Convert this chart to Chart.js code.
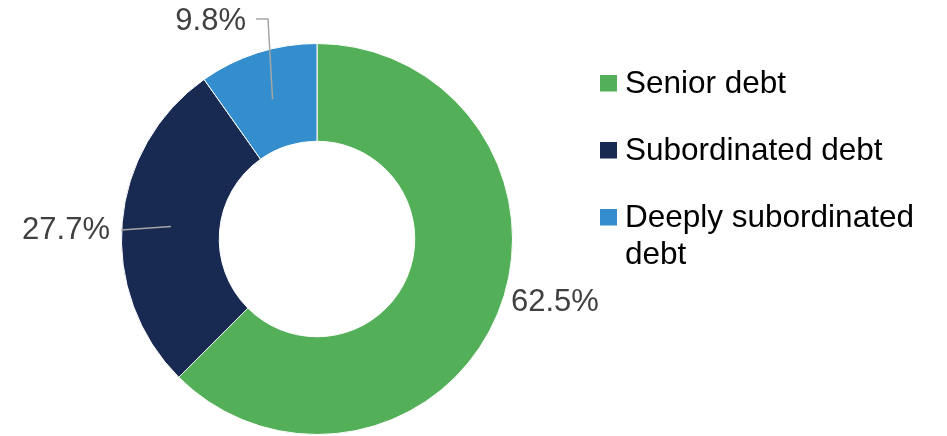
<!DOCTYPE html>
<html>
<head>
<meta charset="utf-8">
<script src="https://cdn.jsdelivr.net/npm/chart.js@4.4.1/dist/chart.umd.min.js"></script>
<style>
html,body{margin:0;padding:0;background:#fff;overflow:hidden;}
#c{display:block;}
</style>
</head>
<body>
<canvas id="c" width="947" height="436"></canvas>
<script>
const categories = ["Senior debt", "Subordinated debt", "Deeply subordinated debt"];
const legendLines = [["Senior debt"], ["Subordinated debt"], ["Deeply subordinated", "debt"]];
const shares = [62.5, 27.7, 9.8];
const labelTexts = ["62.5%", "27.7%", "9.8%"];
const colors = ["#54B058", "#182952", "#348DCD"];

const FONT = '"Liberation Sans", Arial, sans-serif';

// label placement relative to chart center (pixels)
const labelPlacement = [
  {text: [194, 63], align: 'left', line: null},
  {text: [-207, -9], align: 'right', line: [[-196, -9]]},
  {text: [-71, -218], align: 'right', line: [[-49, -220], [-61, -220]]}
];

const overlay = {
  id: 'overlay',
  afterDraw(chart) {
    const ctx = chart.ctx;
    const meta = chart.getDatasetMeta(0);
    ctx.save();
    meta.data.forEach((arc, i) => {
      const p = arc.getProps(['x','y','startAngle','endAngle','innerRadius','outerRadius'], true);
      const mid = (p.startAngle + p.endAngle) / 2;
      const r = (p.innerRadius + p.outerRadius) / 2;
      const ax = p.x + Math.cos(mid) * r;
      const ay = p.y + Math.sin(mid) * r;
      const pl = labelPlacement[i];
      if (pl.line) {
        ctx.beginPath();
        ctx.strokeStyle = '#A6A6A6';
        ctx.lineWidth = 1.5;
        ctx.moveTo(ax, ay);
        pl.line.forEach(pt => ctx.lineTo(p.x + pt[0], p.y + pt[1]));
        ctx.stroke();
      }
      ctx.font = '31px ' + FONT;
      ctx.fillStyle = '#404040';
      ctx.textAlign = pl.align;
      ctx.textBaseline = 'middle';
      ctx.fillText(labelTexts[i], p.x + pl.text[0], p.y + pl.text[1]);
    });
    // legend
    const lx = 600, baselines = [93, 160, 227], lineH = 36.5;
    ctx.font = '31.5px ' + FONT;
    ctx.textAlign = 'left';
    ctx.textBaseline = 'alphabetic';
    categories.forEach((c, i) => {
      ctx.fillStyle = colors[i];
      ctx.fillRect(lx, baselines[i] - 18, 17, 16.5);
      ctx.fillStyle = '#000';
      legendLines[i].forEach((t, k) => ctx.fillText(t, lx + 25, baselines[i] + k * lineH));
    });
    ctx.restore();
  }
};

new Chart(document.getElementById('c'), {
  type: 'doughnut',
  data: {
    labels: categories,
    datasets: [{
      data: shares,
      backgroundColor: colors,
      borderColor: '#ffffff',
      borderWidth: 1
    }]
  },
  options: {
    responsive: false,
    devicePixelRatio: 1,
    animation: false,
    cutout: '50%',
    layout: {padding: {left: 121, right: 434, top: 43, bottom: 1}},
    plugins: {legend: {display: false}, tooltip: {enabled: false}}
  },
  plugins: [overlay]
});
</script>
</body>
</html>
